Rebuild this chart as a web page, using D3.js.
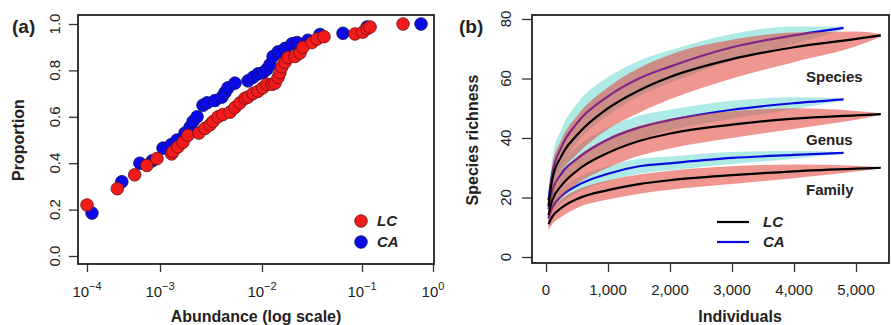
<!DOCTYPE html>
<html>
<head>
<meta charset="utf-8">
<script src="https://cdn.jsdelivr.net/npm/d3@7"></script>
<style>
  body { margin: 0; background: #fff; }
  text { font-family: "Liberation Sans", Arial, sans-serif; fill: #222; }
</style>
</head>
<body>
<div id="chart"></div>
<script>
// ---- panel (a): cumulative proportion vs abundance ----
var lcAbund = [1.0e-4, 2.6e-4, 4.5e-4, 6.6e-4, 9.1e-4, 1.3e-3, 1.34e-3, 1.5e-3, 1.68e-3, 1.88e-3,
               2.41e-3, 2.76e-3, 3.09e-3, 3.31e-3, 3.71e-3, 4.15e-3, 4.86e-3, 5.43e-3, 6.08e-3, 6.81e-3,
               7.29e-3, 8.16e-3, 9.14e-3, 1.02e-2, 1.12e-2, 1.26e-2, 1.35e-2, 1.45e-2, 1.51e-2, 1.58e-2,
               1.70e-2, 1.82e-2, 2.14e-2, 2.40e-2, 2.57e-2, 3.16e-2, 3.55e-2, 4.17e-2, 8.5e-2, 0.103,
               0.118, 0.130, 0.378];
var lcProp = [0.22, 0.29, 0.35, 0.39, 0.42, 0.44, 0.45, 0.47, 0.49, 0.52,
              0.53, 0.55, 0.565, 0.58, 0.60, 0.61, 0.62, 0.64, 0.66, 0.68,
              0.685, 0.70, 0.71, 0.725, 0.74, 0.74, 0.745, 0.77, 0.79, 0.815,
              0.835, 0.855, 0.86, 0.875, 0.90, 0.92, 0.935, 0.945, 0.957, 0.965,
              0.98, 0.987, 1.0];
var caAbund = [1.17e-4, 3.0e-4, 5.3e-4, 7.8e-4, 1.07e-3, 1.29e-3, 1.47e-3, 1.76e-3, 1.97e-3, 2.11e-3,
               2.31e-3, 2.64e-3, 2.89e-3, 3.46e-3, 4.05e-3, 4.34e-3, 4.64e-3, 5.43e-3, 7.29e-3, 8.16e-3,
               9.14e-3, 1.02e-2, 1.12e-2, 1.20e-2, 1.29e-2, 1.45e-2, 1.70e-2, 2.0e-2, 2.24e-2, 2.88e-2,
               3.80e-2, 6.46e-2, 0.118, 0.678];
var caProp = [0.185, 0.32, 0.40, 0.41, 0.465, 0.48, 0.50, 0.53, 0.555, 0.58,
              0.60, 0.65, 0.66, 0.67, 0.685, 0.705, 0.725, 0.745, 0.755, 0.77,
              0.785, 0.79, 0.805, 0.825, 0.86, 0.88, 0.895, 0.915, 0.92, 0.93,
              0.955, 0.96, 0.987, 1.0];
var aTicksX = [1e-4, 1e-3, 1e-2, 1e-1, 1];
var aTickExp = ["-4", "-3", "-2", "-1", "0"];
var aTicksY = [0, 0.2, 0.4, 0.6, 0.8, 1.0];

// ---- panel (b): rarefaction curves ----
var lcIndiv = [40, 100, 250, 500, 1000, 1500, 2000, 3000, 4000, 5000, 5400];
var caIndiv = [40, 100, 250, 500, 1000, 1500, 2000, 3000, 4000, 4800];
var speciesLC = [17, 26, 34, 41, 50, 56, 60.5, 66.5, 70.5, 73.3, 74.5];
var speciesCA = [19, 28, 37, 45, 54, 60, 64, 70.5, 74.5, 77];
var genusLC = [14, 19, 24, 29, 35, 39, 41.5, 44.5, 46.5, 47.6, 48];
var genusCA = [16, 22, 28, 33, 39.5, 43.5, 46, 49.5, 51.7, 53];
var familyLC = [11, 13.5, 16.5, 19.5, 22.5, 24.5, 25.8, 27.5, 28.8, 29.7, 30];
var familyCA = [13, 16.5, 20.5, 24, 28, 30.5, 31.5, 33.3, 34.3, 35];
// half widths of the confidence bands
var speciesLCci = [3, 4.5, 5.5, 6.5, 7, 7.5, 7.5, 6.5, 5, 2.5, 0.5];
var speciesCAci = [3, 5, 6, 6.5, 6.5, 6, 5.5, 4.5, 3, 0.5];
var genusLCci = [2.5, 3.5, 4, 4.5, 5, 5, 5, 4.5, 3.5, 1.5, 0.3];
var genusCAci = [2.5, 3.5, 4, 4, 4, 4, 3.5, 3, 2, 0.3];
var familyLCci = [2, 2.5, 3, 3, 3.2, 3.2, 3.2, 3, 2.3, 1, 0.2];
var familyCAci = [2, 2.5, 2.5, 2.5, 2.5, 2.5, 2.3, 2, 1.3, 0.2];
var rankLabels = ["Species", "Genus", "Family"];
var rankLabelY = [77, 140, 190];
var bTicksX = [0, 1000, 2000, 3000, 4000, 5000];
var bTicksY = [0, 20, 40, 60, 80];

var svg = d3.select("#chart").append("svg")
    .attr("width", 891)
    .attr("height", 325);

function rotatedYLabels(g, ticks, y, xc, fmt) {
    ticks.forEach(function (t) {
        g.append("text")
            .attr("transform", "translate(" + xc + "," + y(t) + ") rotate(-90)")
            .attr("text-anchor", "middle")
            .attr("dy", "0.35em")
            .style("font-size", "15px")
            .text(fmt(t));
    });
}

// ================= panel (a) =================
var xa = d3.scaleLog()
    .domain(aTicksX)
    .range([87, 160, 262, 362, 433]);
var ya = d3.scaleLinear().domain([0, 1]).range([256, 24]);

var ga = svg.append("g");

ga.append("g")
    .attr("transform", "translate(0,264)")
    .call(d3.axisBottom(xa).tickValues(aTicksX).tickSize(8).tickFormat(""))
    .call(function (g) { g.select(".domain").remove(); })
    .selectAll("line").attr("stroke", "#333").attr("stroke-width", 1.3);

aTicksX.forEach(function (t, i) {
    var lab = ga.append("text")
        .attr("x", xa(t))
        .attr("y", 297)
        .attr("text-anchor", "middle")
        .style("font-size", "15px");
    lab.append("tspan").text("10");
    lab.append("tspan").attr("dy", "-7").style("font-size", "11px").text(aTickExp[i].replace("-", "\u2212"));
});

ga.append("g")
    .attr("transform", "translate(78,0)")
    .call(d3.axisLeft(ya).tickValues(aTicksY).tickSize(9).tickFormat(""))
    .call(function (g) { g.select(".domain").remove(); })
    .selectAll("line").attr("stroke", "#333").attr("stroke-width", 1.3);
rotatedYLabels(ga, aTicksY, ya, 55, d3.format(".1f"));

ga.selectAll(".ptca")
    .data(d3.range(caAbund.length))
  .enter().append("circle")
    .attr("class", "ptca")
    .attr("cx", function (i) { return xa(caAbund[i]); })
    .attr("cy", function (i) { return ya(caProp[i]); })
    .attr("r", 6.3)
    .attr("fill", "#0a0ae8")
    .attr("stroke", "#101060")
    .attr("stroke-width", 0.8);

ga.selectAll(".ptlc")
    .data(d3.range(lcAbund.length))
  .enter().append("circle")
    .attr("class", "ptlc")
    .attr("cx", function (i) { return xa(lcAbund[i]); })
    .attr("cy", function (i) { return ya(lcProp[i]); })
    .attr("r", 6.3)
    .attr("fill", "#f21a1a")
    .attr("stroke", "#6a1010")
    .attr("stroke-width", 0.8);

ga.append("rect")
    .attr("x", 78).attr("y", 15)
    .attr("width", 356).attr("height", 249)
    .attr("fill", "none").attr("stroke", "#222").attr("stroke-width", 1.8);

// legend (a)
[["LC", "#f21a1a", "#6a1010", 221], ["CA", "#0a0ae8", "#101060", 242]].forEach(function (d) {
    ga.append("circle").attr("cx", 361).attr("cy", d[3]).attr("r", 6.3)
        .attr("fill", d[1]).attr("stroke", d[2]).attr("stroke-width", 0.8);
    ga.append("text").attr("x", 377).attr("y", d[3]).attr("dy", "0.36em")
        .style("font-size", "15px").style("font-weight", "bold").style("font-style", "italic")
        .text(d[0]);
});

ga.append("text").attr("x", 12).attr("y", 33)
    .style("font-size", "19px").style("font-weight", "bold").text("(a)");
ga.append("text")
    .attr("transform", "translate(24,140) rotate(-90)")
    .attr("text-anchor", "middle")
    .style("font-size", "16px").style("font-weight", "bold")
    .text("Proportion");
ga.append("text").attr("x", 256).attr("y", 322)
    .attr("text-anchor", "middle")
    .style("font-size", "16px").style("font-weight", "bold")
    .text("Abundance (log scale)");

// ================= panel (b) =================
var xb = d3.scaleLinear().domain([0, 5000]).range([546, 856]);
var yb = d3.scaleLinear().domain([0, 80]).range([257, 19]);

var gb = svg.append("g");

gb.append("g")
    .attr("transform", "translate(0,263)")
    .call(d3.axisBottom(xb).tickValues(bTicksX).tickSize(9).tickFormat(""))
    .call(function (g) { g.select(".domain").remove(); })
    .selectAll("line").attr("stroke", "#333").attr("stroke-width", 1.3);
bTicksX.forEach(function (t) {
    gb.append("text").attr("x", xb(t)).attr("y", 295)
        .attr("text-anchor", "middle").style("font-size", "15px")
        .text(d3.format(",")(t));
});

gb.append("g")
    .attr("transform", "translate(532,0)")
    .call(d3.axisLeft(yb).tickValues(bTicksY).tickSize(10).tickFormat(""))
    .call(function (g) { g.select(".domain").remove(); })
    .selectAll("line").attr("stroke", "#333").attr("stroke-width", 1.3);
rotatedYLabels(gb, bTicksY, yb, 506, d3.format("d"));

function band(xs, vs, ci) {
    return d3.area()
        .curve(d3.curveMonotoneX)
        .x(function (i) { return xb(xs[i]); })
        .y0(function (i) { return yb(vs[i] - ci[i]); })
        .y1(function (i) { return yb(vs[i] + ci[i]); })(d3.range(xs.length));
}
function curve(xs, vs) {
    return d3.line()
        .curve(d3.curveMonotoneX)
        .x(function (i) { return xb(xs[i]); })
        .y(function (i) { return yb(vs[i]); })(d3.range(xs.length));
}

var caSeries = [[speciesCA, speciesCAci], [genusCA, genusCAci], [familyCA, familyCAci]];
var lcSeries = [[speciesLC, speciesLCci], [genusLC, genusLCci], [familyLC, familyLCci]];

caSeries.forEach(function (s) {
    gb.append("path").attr("d", band(caIndiv, s[0], s[1]))
        .attr("fill", "rgb(95,215,205)").attr("fill-opacity", 0.5);
});
caSeries.forEach(function (s) {
    gb.append("path").attr("d", curve(caIndiv, s[0]))
        .attr("fill", "none").attr("stroke", "#0a0ae0").attr("stroke-width", 2.2);
});
lcSeries.forEach(function (s) {
    gb.append("path").attr("d", band(lcIndiv, s[0], s[1]))
        .attr("fill", "rgb(228,64,55)").attr("fill-opacity", 0.55);
});
lcSeries.forEach(function (s) {
    gb.append("path").attr("d", curve(lcIndiv, s[0]))
        .attr("fill", "none").attr("stroke", "#000").attr("stroke-width", 2.2);
});

gb.append("rect")
    .attr("x", 532).attr("y", 15)
    .attr("width", 357).attr("height", 248)
    .attr("fill", "none").attr("stroke", "#222").attr("stroke-width", 1.8);

rankLabels.forEach(function (r, i) {
    gb.append("text").attr("x", 806).attr("y", rankLabelY[i]).attr("dy", "0.36em")
        .style("font-size", "15px").style("font-weight", "bold").text(r);
});

// legend (b)
[["LC", "#000", 222], ["CA", "#0a0ae0", 242]].forEach(function (d) {
    gb.append("line").attr("x1", 717).attr("x2", 749).attr("y1", d[2]).attr("y2", d[2])
        .attr("stroke", d[1]).attr("stroke-width", 2.2);
    gb.append("text").attr("x", 763).attr("y", d[2]).attr("dy", "0.36em")
        .style("font-size", "15px").style("font-weight", "bold").style("font-style", "italic")
        .text(d[0]);
});

gb.append("text").attr("x", 459).attr("y", 33)
    .style("font-size", "19px").style("font-weight", "bold").text("(b)");
gb.append("text")
    .attr("transform", "translate(478,140) rotate(-90)")
    .attr("text-anchor", "middle")
    .style("font-size", "16px").style("font-weight", "bold")
    .text("Species richness");
gb.append("text").attr("x", 740).attr("y", 322)
    .attr("text-anchor", "middle")
    .style("font-size", "16px").style("font-weight", "bold")
    .text("Individuals");
</script>
</body>
</html>
